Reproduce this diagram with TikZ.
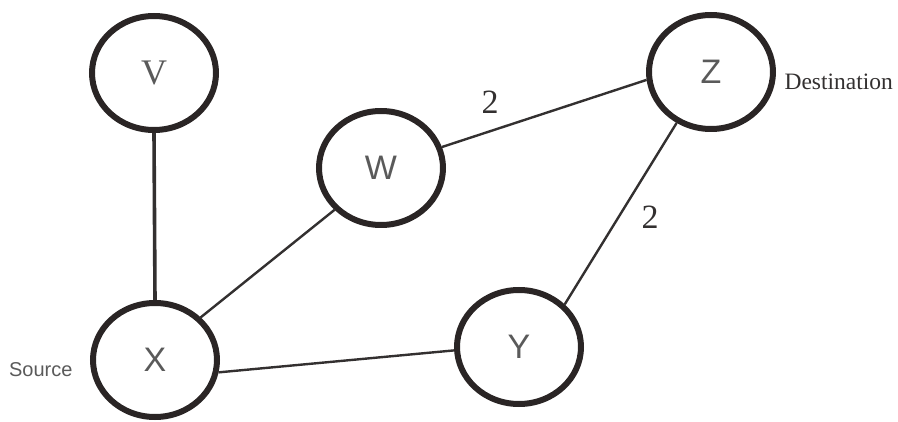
\documentclass[tikz,border=0pt]{standalone}
\usepackage{fontspec}
\setmainfont{Liberation Serif}
\newfontfamily\lsans{Liberation Sans}
\usetikzlibrary{shapes.geometric}
\definecolor{ring}{HTML}{2A2525}
\definecolor{edgec}{HTML}{333030}
\definecolor{txt}{HTML}{5A5A5A}
\tikzset{
  vertex/.style={ellipse, draw=ring, line width=6pt, minimum width=124pt, minimum height=114pt, inner sep=0pt, text=txt},
  sansl/.style={font=\lsans\fontsize{34}{34}\selectfont},
  serifl/.style={font=\fontsize{36}{36}\selectfont},
  link/.style={draw=edgec, line width=2.4pt},
  weight/.style={font=\fontsize{34}{34}\selectfont, text=edgec},
  side/.style={text=txt}
}
\begin{document}
\begin{tikzpicture}[x=1pt,y=-1pt]
\useasboundingbox (0,0) rectangle (898,422);
\node[vertex, serifl] (V) at (154,73) {V};
\node[vertex, sansl] (W) at (381,168) {W};
\node[vertex, sansl] (Z) at (711,72) {Z};
\node[vertex, sansl] (Y) at (519,347) {Y};
\node[vertex, sansl] (X) at (155,360) {X};
\draw[link, line width=3.6pt] (V.270) -- (X.90);
\draw[link] (X.43) -- (W.222);
\draw[link] (X.-11) -- (Y.183);
\draw[link] (W.19) -- (Z.187);
\draw[link] (Z.236) -- (Y.43);
\node[weight] (w1) at (490,102) {2};
\node[weight] (w2) at (650,217) {2};
\node[side, text=edgec, anchor=west, font=\fontsize{23.5}{23.5}\selectfont] (dst) at (781,82) {Destination};
\node[side, anchor=east, font=\lsans\fontsize{20}{20}\selectfont] (src) at (76,370) {Source};
\end{tikzpicture}
\end{document}
